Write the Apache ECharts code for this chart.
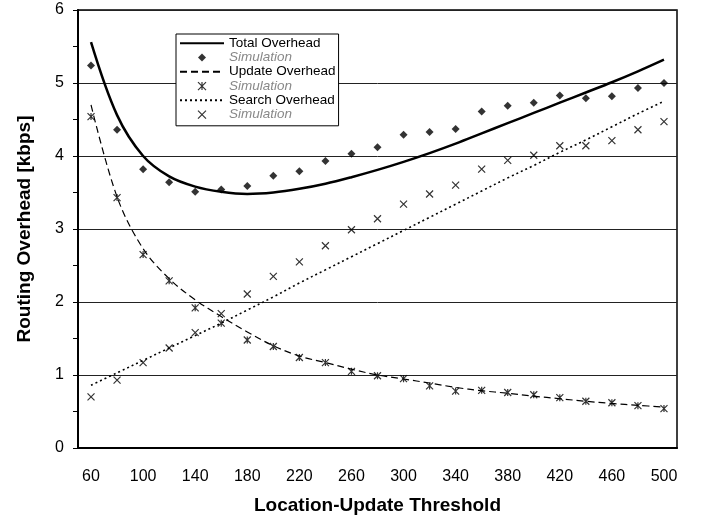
<!DOCTYPE html>
<html>
<head>
<meta charset="utf-8">
<script src="https://cdn.jsdelivr.net/npm/echarts@6/dist/echarts.min.js"></script>
<style>
  html, body { margin: 0; padding: 0; background: #fff; }
  #chart { width: 703px; height: 516px; }
</style>
</head>
<body>
<div id="chart"></div>
<script>
// location-update threshold categories
const thresholds = [60, 80, 100, 120, 140, 160, 180, 200, 220, 240, 260, 280,
  300, 320, 340, 360, 380, 400, 420, 440, 460, 480, 500]

// analytical curves (kbps)
const totalOverhead = [5.56, 4.56, 4.0, 3.72, 3.58, 3.51, 3.48, 3.5, 3.55, 3.62, 3.71, 3.81,
  3.92, 4.04, 4.17, 4.31, 4.45, 4.59, 4.73, 4.87, 5.01, 5.16, 5.32]
const updateOverhead = [4.70, 3.44, 2.73, 2.32, 2.03, 1.8, 1.59, 1.4, 1.26, 1.17, 1.08, 1.0,
  0.945, 0.89, 0.83, 0.785, 0.75, 0.71, 0.675, 0.64, 0.61, 0.585, 0.56]
const searchOverhead = [0.86, 1.03, 1.2, 1.37, 1.54, 1.71, 1.89, 2.07, 2.26, 2.44, 2.62, 2.8,
  2.98, 3.16, 3.34, 3.52, 3.7, 3.87, 4.05, 4.22, 4.4, 4.58, 4.75]

// simulation points (kbps)
const totalSim = [5.24, 4.36, 3.82, 3.64, 3.51, 3.54, 3.59, 3.73, 3.79, 3.93, 4.03, 4.12,
  4.29, 4.33, 4.37, 4.61, 4.69, 4.73, 4.83, 4.79, 4.82, 4.93, 5.0]
const updateSim = [4.54, 3.43, 2.65, 2.29, 1.92, 1.71, 1.48, 1.39, 1.24, 1.17, 1.05, 0.99,
  0.95, 0.85, 0.78, 0.79, 0.76, 0.73, 0.69, 0.64, 0.62, 0.58, 0.54]
const searchSim = [0.70, 0.93, 1.17, 1.37, 1.58, 1.84, 2.11, 2.35, 2.55, 2.77, 2.99, 3.14,
  3.34, 3.48, 3.60, 3.82, 3.94, 4.01, 4.14, 4.14, 4.21, 4.36, 4.47]

const FONT = 'Liberation Sans, Arial, Helvetica, sans-serif'
const diamondPath = 'path://M5,0L10,5L5,10L0,5Z'
const starPath = 'path://M0,0L10,10M10,0L0,10M5,0L5,10'
const crossPath = 'path://M0,0L10,10M10,0L0,10'

const simText = { color: '#888', fontStyle: 'italic' }
const hollow = { color: 'transparent', borderColor: '#000', borderWidth: 1.2 }
// hides the little circle ECharts puts on a line-series legend icon
const noDot = { color: 'transparent', borderWidth: 0 }

const chart = echarts.init(document.getElementById('chart'))
chart.setOption({
  animation: false,
  textStyle: { fontFamily: FONT },
  grid: {
    left: 78, right: 26, top: 10, bottom: 68,
    outerBoundsMode: 'none',
    show: true, borderColor: '#000', borderWidth: 1.5
  },
  legend: {
    orient: 'vertical',
    left: 176, top: 34,
    backgroundColor: '#fff',
    borderColor: '#000', borderWidth: 1,
    padding: [2, 3, 4, 3],
    itemWidth: 44, itemHeight: 8, itemGap: 0,
    textStyle: { fontFamily: FONT, fontSize: 13.5, color: '#000', lineHeight: 14.3 },
    formatter: n => n.trim(),
    data: [
      { name: 'Total Overhead', itemStyle: noDot },
      { name: 'Simulation', textStyle: simText },
      { name: 'Update Overhead', itemStyle: noDot },
      { name: 'Simulation ', textStyle: simText, itemStyle: hollow },
      { name: 'Search Overhead', itemStyle: noDot },
      { name: 'Simulation  ', textStyle: simText, itemStyle: hollow }
    ]
  },
  xAxis: {
    type: 'category',
    data: thresholds,
    boundaryGap: true,
    name: 'Location-Update Threshold',
    nameLocation: 'middle',
    nameGap: 48,
    nameMoveOverlap: false,
    nameTextStyle: { fontFamily: FONT, fontSize: 19, fontWeight: 'bold', color: '#000' },
    axisLine: { lineStyle: { color: '#000', width: 2 } },
    axisTick: { interval: 0, length: 5, lineStyle: { color: '#000' } },
    axisLabel: { interval: 1, margin: 21, fontSize: 16, color: '#000', fontFamily: FONT },
    splitLine: { show: false }
  },
  yAxis: {
    type: 'value',
    min: 0, max: 6, interval: 1,
    name: 'Routing Overhead [kbps]',
    nameLocation: 'middle',
    nameGap: 44,
    nameMoveOverlap: false,
    nameTextStyle: { fontFamily: FONT, fontSize: 19, fontWeight: 'bold', color: '#000' },
    axisLine: { show: true, lineStyle: { color: '#000', width: 2 } },
    axisTick: { show: true, length: 5, lineStyle: { color: '#000' } },
    minorTick: { show: true, splitNumber: 2, length: 5, lineStyle: { color: '#000' } },
    axisLabel: { margin: 14, fontSize: 16, color: '#000', fontFamily: FONT },
    splitLine: { lineStyle: { color: '#222', width: 1 } }
  },
  series: [
    {
      name: 'Total Overhead', type: 'line', data: totalOverhead,
      smooth: 0.35, symbol: 'none',
      lineStyle: { color: '#000', width: 2.5 }, itemStyle: { color: '#000' }
    },
    {
      name: 'Simulation', type: 'scatter', data: totalSim,
      symbol: diamondPath, symbolSize: 8, itemStyle: { color: '#000' }
    },
    {
      name: 'Update Overhead', type: 'line', data: updateOverhead,
      smooth: 0.35, symbol: 'none',
      lineStyle: { color: '#000', width: 1.2, type: [7, 4] }, itemStyle: { color: '#000' }
    },
    {
      name: 'Simulation ', type: 'scatter', data: updateSim,
      symbol: starPath, symbolSize: 7, itemStyle: hollow
    },
    {
      name: 'Search Overhead', type: 'line', data: searchOverhead,
      smooth: 0.35, symbol: 'none',
      lineStyle: { color: '#000', width: 1.6, type: [2, 3] }, itemStyle: { color: '#000' }
    },
    {
      name: 'Simulation  ', type: 'scatter', data: searchSim,
      symbol: crossPath, symbolSize: 7, itemStyle: hollow
    }
  ]
})
</script>
</body>
</html>
